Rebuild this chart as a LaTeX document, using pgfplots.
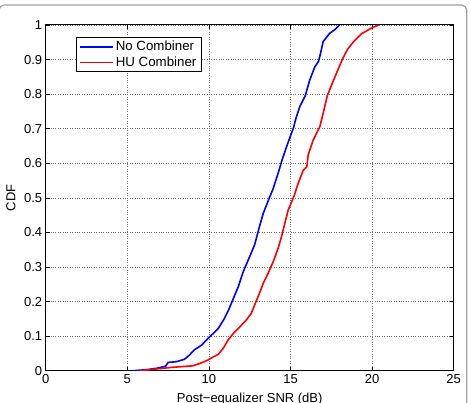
\documentclass[border=0pt]{standalone}
\usepackage{pgfplots}
\pgfplotsset{compat=1.18}
\usepackage{fontspec}
\setmainfont{Liberation Sans}
\begin{document}
\begin{tikzpicture}
\begin{axis}[
  scale only axis,
  width=408pt, height=345.7pt,
  xmin=0, xmax=25, ymin=0, ymax=1,
  xtick={0,5,...,25},
  ytick={0,0.1,...,1},
  yticklabels={0,0.1,0.2,0.3,0.4,0.5,0.6,0.7,0.8,0.9,1},
  /pgf/number format/assume math mode=true,
  tick label style={font=\fontsize{13}{15}\selectfont},
  label style={font=\fontsize{13}{15}\selectfont},
  xticklabel style={yshift=-0.5pt},
  yticklabel style={xshift=0pt},
  tick align=inside,
  major tick length=4pt,
  tick style={black, line width=0.6pt},
  axis line style={line width=1pt},
  grid=major,
  major grid style={dotted, black!55, line width=0.6pt},
  xlabel={Post−equalizer SNR (dB)},
  ylabel={CDF},
  xlabel style={at={(axis description cs:0.5,-0.0645)}, anchor=north, inner sep=0pt},
  ylabel style={at={(axis description cs:-0.085,0.5)}, anchor=center, inner sep=0pt},
  legend style={at={(rel axis cs:0.0743,0.964)}, anchor=north west,
    draw=black, font=\fontsize{13.3}{15.5}\selectfont,
    inner xsep=3pt, inner ysep=1.5pt, row sep=0.5pt},
  legend cell align=left,
  legend image code/.code={\draw[#1] (0pt,0pt) -- (33pt,0pt);},
]
\addplot[blue, line width=1.6pt] coordinates {
(5.37,0) (6.2,0.003) (6.8,0.007) (7.35,0.013) (7.5,0.024) (8.0,0.026) (8.5,0.033)
(8.8,0.045) (9.1,0.06) (9.55,0.074) (9.96,0.094) (10.27,0.108) (10.57,0.122)
(10.9,0.147) (11.2,0.175) (11.5,0.209) (11.8,0.243) (12.1,0.286) (12.5,0.33)
(12.8,0.364) (13.1,0.417) (13.33,0.455) (13.68,0.497) (13.94,0.527) (14.24,0.571)
(14.5,0.612) (14.76,0.648) (14.98,0.677) (15.2,0.705) (15.3,0.725) (15.57,0.764)
(15.9,0.795) (16.18,0.841) (16.49,0.879) (16.72,0.895) (16.85,0.92) (17.0,0.952)
(17.4,0.976) (17.7,0.986) (17.9,0.995) (18.0,1.0)
};
\addlegendentry{No Combiner}
\addplot[red, line width=1.6pt] coordinates {
(5.78,0) (6.6,0.004) (7.2,0.007) (7.8,0.01) (8.4,0.012) (9.0,0.014) (9.45,0.021)
(9.86,0.029) (10.27,0.04) (10.57,0.047) (10.88,0.065) (11.18,0.089) (11.5,0.108)
(11.9,0.127) (12.3,0.147) (12.6,0.166) (12.8,0.19) (13.1,0.224) (13.33,0.253)
(13.63,0.282) (13.94,0.315) (14.24,0.354) (14.45,0.388) (14.65,0.426) (14.86,0.465)
(15.2,0.503) (15.47,0.542) (15.78,0.58) (16.0,0.59) (16.08,0.624) (16.39,0.667)
(16.8,0.706) (17.1,0.764) (17.25,0.795) (17.6,0.836) (17.9,0.87) (18.2,0.903)
(18.5,0.93) (18.85,0.951) (19.36,0.975) (20.0,0.992) (20.4,1.0)
};
\addlegendentry{HU Combiner}
\end{axis}
\draw[gray!75, line width=1.2pt, rounded corners=5pt] (-46.7pt,-80pt) -- (-46.7pt,365.7pt) -- (421pt,365.7pt) -- (421pt,-80pt);
\pgfresetboundingbox
\useasboundingbox (-45.7pt,-31.3pt) rectangle (424.3pt,370.7pt);
\end{tikzpicture}
\end{document}
